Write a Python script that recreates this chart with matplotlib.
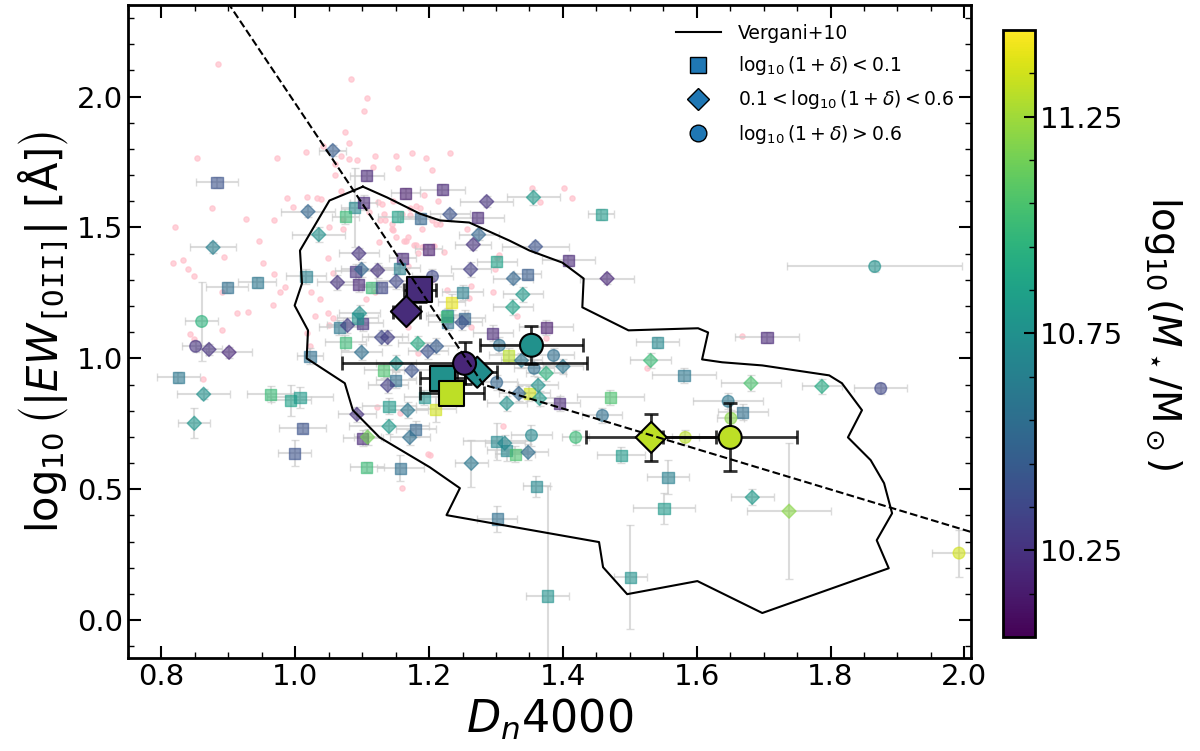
import matplotlib
matplotlib.use('Agg')
import matplotlib.pyplot as plt
import numpy as np
from matplotlib.colors import Normalize
from matplotlib.lines import Line2D
from matplotlib.ticker import FixedLocator, MultipleLocator

# full parent sample (pink dots)
bg_x = [0.884, 1.083, 1.107, 1.102, 1.074, 1.080, 0.853, 0.972, 1.016, 1.041, 1.068, 1.080,
        1.092, 1.119, 1.150, 1.175, 1.195, 1.231, 1.060, 1.116, 1.154, 1.205, 1.354, 1.401,
        1.414, 1.192, 0.987, 1.017, 1.032, 1.038, 1.069, 1.213, 1.366, 1.123, 1.146, 1.180,
        1.110, 1.051, 1.126, 1.144, 1.210, 1.217, 1.160, 1.171, 1.132, 1.144, 1.150, 1.168,
        1.162, 1.177, 1.189, 1.125, 1.257, 1.184, 1.222, 1.208, 1.302, 1.059, 1.129, 0.996,
        0.875, 0.926, 0.968, 0.820, 1.134, 1.146, 1.165, 1.181, 1.189, 0.946, 0.893, 0.832,
        0.817, 0.840, 0.849, 0.951, 1.049, 0.968, 0.984, 0.977, 0.890, 1.023, 1.037, 0.966,
        0.929, 0.913, 1.029, 1.049, 1.105, 1.119, 0.890, 1.051, 1.056, 0.843, 0.849, 1.017,
        1.022, 0.862, 1.071, 1.071, 1.168, 1.056, 1.204, 1.205, 1.171, 1.186, 1.305, 1.295,
        1.263, 1.226, 1.168, 1.263, 1.183, 1.157, 1.122, 1.311, 1.199, 1.159, 1.375, 1.298,
        1.260, 1.331, 1.668, 1.525, 1.201]
bg_y = [2.126, 2.069, 1.996, 1.947, 1.866, 1.821, 1.767, 1.767, 1.790, 1.813, 1.775, 1.763,
        1.756, 1.775, 1.775, 1.786, 1.767, 1.786, 1.702, 1.733, 1.729, 1.718, 1.649, 1.649,
        1.611, 1.626, 1.611, 1.618, 1.611, 1.607, 1.641, 1.603, 1.599, 1.599, 1.603, 1.584,
        1.561, 1.500, 1.527, 1.515, 1.515, 1.515, 1.550, 1.546, 1.553, 1.496, 1.462, 1.462,
        1.447, 1.435, 1.496, 1.443, 1.496, 1.401, 1.405, 1.431, 1.382, 1.744, 1.588, 1.580,
        1.573, 1.534, 1.527, 1.500, 1.527, 1.492, 1.447, 1.435, 1.424, 1.447, 1.389, 1.374,
        1.363, 1.343, 1.313, 1.363, 1.382, 1.324, 1.271, 1.252, 1.252, 1.252, 1.225, 1.202,
        1.176, 1.172, 1.160, 1.172, 1.225, 1.252, 1.107, 1.126, 1.156, 1.092, 1.073, 1.095,
        1.046, 0.920, 1.534, 1.496, 1.351, 1.328, 1.301, 1.527, 1.576, 1.573, 1.393, 1.252,
        1.275, 1.260, 1.118, 1.118, 1.019, 0.790, 0.813, 0.740, 0.634, 0.504, 1.076, 1.340,
        1.229, 1.160, 1.084, 0.962, 0.630]

# log10(1+delta) < 0.1  (squares)
sq_x = [0.883, 0.898, 0.943, 0.825, 0.963, 0.993, 1.007, 1.011, 0.999, 1.101, 1.107, 1.157,
        1.140, 1.180, 1.302, 1.301, 1.316, 1.210, 1.193, 1.089, 1.075, 1.107, 1.102, 1.165,
        1.220, 1.153, 1.187, 1.160, 1.199, 1.016, 1.095, 1.090, 1.114, 1.129, 1.156, 1.101,
        1.066, 1.093, 1.075, 1.132, 1.150, 1.228, 1.228, 1.022, 1.234, 1.301, 1.408, 1.347,
        1.250, 1.226, 1.253, 1.375, 1.295, 1.319, 1.350, 1.395, 1.329, 1.360, 1.377, 1.551,
        1.557, 1.487, 1.501, 1.669, 1.705, 1.541, 1.581, 1.471, 1.457, 1.272]
sq_y = [1.672, 1.271, 1.290, 0.927, 0.863, 0.840, 0.851, 0.733, 0.637, 0.695, 0.584, 0.580,
        0.817, 0.729, 0.386, 0.683, 0.649, 0.805, 0.851, 1.576, 1.542, 1.698, 1.595, 1.630,
        1.645, 1.542, 1.534, 1.382, 1.416, 1.313, 1.282, 1.332, 1.271, 1.271, 1.344, 1.134,
        1.118, 1.153, 1.061, 0.954, 0.916, 1.164, 1.137, 1.008, 1.214, 1.370, 1.374, 1.321,
        1.252, 1.160, 1.153, 1.118, 1.096, 1.011, 0.866, 0.828, 0.634, 0.511, 0.092, 0.427,
        0.546, 0.630, 0.164, 0.794, 1.080, 1.061, 0.935, 0.851, 1.550, 1.538]
sq_xerr = [0.032, 0.031, 0.028, 0.032, 0.035, 0.030, 0.050, 0.035, 0.025, 0.030, 0.025, 0.035,
           0.040, 0.030, 0.030, 0.050, 0.030, 0.030, 0.030, 0.020, 0.020, 0.025, 0.020, 0.022,
           0.034, 0.030, 0.030, 0.020, 0.020, 0.030, 0.030, 0.030, 0.020, 0.030, 0.030, 0.030,
           0.030, 0.030, 0.030, 0.030, 0.030, 0.030, 0.030, 0.020, 0.020, 0.030, 0.040, 0.020,
           0.030, 0.030, 0.030, 0.040, 0.030, 0.030, 0.030, 0.030, 0.030, 0.020, 0.032, 0.047,
           0.032, 0.036, 0.024, 0.037, 0.048, 0.032, 0.048, 0.050, 0.020, 0.040]
sq_yerr = [0.020, 0.020, 0.020, 0.020, 0.030, 0.060, 0.040, 0.020, 0.050, 0.030, 0.020, 0.050,
           0.030, 0.030, 0.050, 0.070, 0.040, 0.050, 0.030, 0.150, 0.030, 0.020, 0.030, 0.020,
           0.020, 0.020, 0.020, 0.020, 0.020, 0.030, 0.030, 0.030, 0.020, 0.020, 0.020, 0.030,
           0.030, 0.030, 0.030, 0.030, 0.030, 0.030, 0.030, 0.030, 0.030, 0.020, 0.020, 0.020,
           0.030, 0.030, 0.030, 0.030, 0.030, 0.030, 0.030, 0.030, 0.030, 0.040, 0.420, 0.060,
           0.065, 0.030, 0.200, 0.030, 0.020, 0.020, 0.030, 0.030, 0.020, 0.020]
sq_mass = [10.40, 10.55, 10.60, 10.60, 11.00, 10.85, 10.80, 10.40, 10.40, 10.20, 11.00, 10.55,
           10.80, 10.50, 10.55, 10.70, 10.70, 11.35, 10.75, 10.70, 11.00, 10.20, 10.20, 10.15,
           10.20, 10.85, 10.50, 10.20, 10.15, 10.65, 10.20, 10.25, 11.00, 10.35, 10.65, 10.25,
           10.60, 10.75, 11.00, 11.05, 10.55, 10.70, 10.55, 10.55, 11.40, 10.85, 10.20, 10.45,
           10.65, 11.00, 10.50, 10.15, 10.20, 11.30, 11.35, 10.20, 11.05, 10.70, 10.75, 10.80,
           10.65, 10.80, 10.75, 10.55, 10.20, 10.70, 10.60, 11.05, 10.80, 10.20]

# 0.1 < log10(1+delta) < 0.6  (diamonds)
dm_x = [0.877, 0.871, 0.901, 0.863, 0.849, 1.092, 1.108, 1.168, 1.140, 1.171, 1.263, 1.313,
        1.316, 1.019, 1.231, 1.035, 1.095, 1.063, 1.099, 1.123, 1.151, 1.096, 1.078, 1.129,
        1.138, 1.099, 1.183, 1.211, 1.198, 1.151, 1.174, 1.138, 1.262, 1.466, 1.326, 1.340,
        1.325, 1.249, 1.338, 1.400, 1.375, 1.363, 1.334, 1.365, 1.348, 1.683, 1.738, 1.681,
        1.787, 1.531, 1.056, 1.286, 1.356, 1.274, 1.266, 1.359]
dm_y = [1.424, 1.034, 1.023, 0.863, 0.752, 0.786, 0.699, 0.802, 0.740, 0.698, 0.599, 0.676,
        0.828, 1.561, 1.550, 1.473, 1.401, 1.290, 1.340, 1.336, 1.294, 1.172, 1.126, 1.080,
        1.080, 1.023, 1.057, 1.046, 1.027, 0.981, 0.954, 0.897, 1.340, 1.305, 1.305, 1.244,
        1.195, 1.137, 0.992, 0.969, 0.943, 0.897, 0.866, 0.847, 0.641, 0.469, 0.416, 0.905,
        0.893, 0.992, 1.794, 1.599, 1.615, 1.473, 1.435, 1.427]
dm_xerr = [0.034, 0.020, 0.034, 0.040, 0.024, 0.028, 0.020, 0.030, 0.060, 0.030, 0.025, 0.030,
           0.030, 0.040, 0.030, 0.040, 0.030, 0.030, 0.030, 0.030, 0.030, 0.030, 0.030, 0.030,
           0.030, 0.030, 0.030, 0.030, 0.030, 0.030, 0.030, 0.030, 0.030, 0.040, 0.030, 0.030,
           0.030, 0.030, 0.030, 0.030, 0.030, 0.030, 0.030, 0.030, 0.030, 0.032, 0.063, 0.045,
           0.030, 0.030, 0.020, 0.040, 0.040, 0.030, 0.027, 0.050]
dm_yerr = [0.020, 0.020, 0.020, 0.020, 0.057, 0.030, 0.030, 0.030, 0.030, 0.030, 0.090, 0.030,
           0.030, 0.020, 0.020, 0.030, 0.020, 0.030, 0.030, 0.030, 0.030, 0.030, 0.030, 0.030,
           0.030, 0.030, 0.030, 0.030, 0.030, 0.030, 0.030, 0.030, 0.030, 0.020, 0.020, 0.030,
           0.030, 0.030, 0.030, 0.030, 0.030, 0.030, 0.030, 0.030, 0.030, 0.030, 0.260, 0.030,
           0.030, 0.030, 0.020, 0.020, 0.030, 0.020, 0.020, 0.020]
dm_mass = [10.65, 10.25, 10.20, 10.75, 10.78, 10.25, 11.15, 10.60, 10.80, 10.55, 10.60, 10.70,
           10.75, 10.50, 10.40, 10.75, 10.25, 10.25, 10.50, 10.25, 10.35, 10.75, 10.30, 10.35,
           10.30, 10.55, 10.90, 10.45, 10.40, 10.75, 10.40, 10.30, 10.30, 10.20, 10.50, 10.80,
           10.85, 10.40, 10.60, 10.60, 10.95, 10.75, 10.50, 10.80, 10.55, 10.80, 11.20, 11.05,
           10.90, 11.00, 10.45, 10.25, 10.80, 10.50, 10.25, 10.40]

# log10(1+delta) > 0.6  (circles)
ci_x = [0.860, 0.851, 1.205, 1.305, 1.386, 1.357, 1.301, 1.459, 1.353, 1.419, 1.583, 1.651,
        1.647, 1.875, 1.866, 1.992]
ci_y = [1.141, 1.046, 1.313, 1.050, 1.011, 0.962, 0.908, 0.782, 0.706, 0.698, 0.698, 0.771,
        0.836, 0.885, 1.351, 0.256]
ci_xerr = [0.025, 0.020, 0.030, 0.030, 0.030, 0.030, 0.030, 0.030, 0.030, 0.020, 0.020, 0.020,
           0.052, 0.040, 0.131, 0.040]
ci_yerr = [0.150, 0.020, 0.030, 0.030, 0.030, 0.030, 0.030, 0.030, 0.040, 0.030, 0.030, 0.030,
           0.030, 0.020, 0.020, 0.090]
ci_mass = [10.95, 10.25, 10.35, 10.55, 10.55, 10.55, 10.50, 10.55, 10.70, 11.00, 11.30, 11.20,
           10.60, 10.35, 10.75, 11.35]

# stacked / median points per environment bin
msq_x = [1.186, 1.220, 1.234]
msq_y = [1.263, 0.924, 0.866]
msq_xerr = [0.024, 0.034, 0.048]
msq_yerr = [0.046, 0.030, 0.020]
msq_mass = [10.22, 10.75, 11.31]

mdm_x = [1.166, 1.272, 1.532]
mdm_y = [1.179, 0.947, 0.698]
mdm_xerr = [0.020, 0.030, 0.097]
mdm_yerr = [0.030, 0.030, 0.090]
mdm_mass = [10.22, 10.73, 11.31]

mci_x = [1.253, 1.353, 1.650]
mci_y = [0.981, 1.050, 0.698]
mci_xerr = [0.183, 0.077, 0.100]
mci_yerr = [0.080, 0.073, 0.130]
mci_mass = [10.20, 10.75, 11.31]

# Vergani+10 contour
verg_x = [1.101, 1.137, 1.186, 1.216, 1.260, 1.320, 1.350, 1.399, 1.431, 1.429, 1.498, 1.602,
          1.617, 1.608, 1.638, 1.698, 1.798, 1.817, 1.847, 1.826, 1.860, 1.880, 1.892, 1.869,
          1.887, 1.698, 1.601, 1.496, 1.460, 1.454, 1.226, 1.246, 1.201, 1.126, 1.086, 1.074,
          1.017, 1.019, 0.999, 1.010, 1.007, 1.051, 1.101]
verg_y = [1.656, 1.615, 1.553, 1.527, 1.519, 1.450, 1.412, 1.366, 1.305, 1.195, 1.107, 1.115,
          1.099, 0.996, 0.985, 0.973, 0.935, 0.905, 0.802, 0.698, 0.611, 0.523, 0.408, 0.305,
          0.198, 0.027, 0.149, 0.099, 0.202, 0.298, 0.401, 0.504, 0.584, 0.698, 0.802, 0.905,
          1.000, 1.107, 1.202, 1.286, 1.412, 1.603, 1.656]

# dividing line
div_x = [0.899, 1.281, 2.02]
div_y = [2.36, 0.90, 0.329]

norm = Normalize(vmin=10.05, vmax=11.45)
cmap = plt.get_cmap('viridis')

fig = plt.figure(figsize=(12, 7.51), dpi=100)
ax = fig.add_axes([0.1067, 0.1238, 0.7025, 0.8695])

ax.scatter(bg_x, bg_y, s=14, color='pink', alpha=0.7, zorder=0)


def plot_sample(x, y, xerr, yerr, mass, marker, size):
    ax.errorbar(x, y, xerr=xerr, yerr=yerr, fmt='none', ecolor='0.8', elinewidth=1.5,
                capsize=3, alpha=0.7, zorder=1)
    ax.scatter(x, y, c=mass, cmap=cmap, norm=norm, marker=marker, s=size, alpha=0.6, zorder=2)


def plot_mean(x, y, xerr, yerr, mass, marker, size):
    ax.errorbar(x, y, xerr=xerr, yerr=yerr, fmt='none', ecolor='k', elinewidth=2,
                capsize=5, capthick=2, alpha=0.8, zorder=4)
    ax.scatter(x, y, c=mass, cmap=cmap, norm=norm, marker=marker, s=size,
               edgecolors='k', linewidths=1.5, zorder=5)


plot_sample(sq_x, sq_y, sq_xerr, sq_yerr, sq_mass, 's', 64)
plot_sample(dm_x, dm_y, dm_xerr, dm_yerr, dm_mass, 'D', 51)
plot_sample(ci_x, ci_y, ci_xerr, ci_yerr, ci_mass, 'o', 71)

ax.plot(verg_x, verg_y, color='k', lw=1.5, zorder=3)

plot_mean(msq_x, msq_y, msq_xerr, msq_yerr, msq_mass, 's', 18 ** 2)
plot_mean(mdm_x, mdm_y, mdm_xerr, mdm_yerr, mdm_mass, 'D', 15.8 ** 2)
plot_mean(mci_x, mci_y, mci_xerr, mci_yerr, mci_mass, 'o', 16.5 ** 2)

ax.plot(div_x, div_y, 'k--', lw=1.5, zorder=6)

ax.set_xlim(0.75, 2.01)
ax.set_ylim(-0.145, 2.35)
ax.xaxis.set_major_locator(MultipleLocator(0.2))
ax.xaxis.set_minor_locator(MultipleLocator(0.05))
ax.yaxis.set_major_locator(MultipleLocator(0.5))
ax.yaxis.set_minor_locator(MultipleLocator(0.1))
ax.tick_params(which='both', direction='in', top=True, right=True)
ax.tick_params(which='major', length=9, width=1.5, labelsize=21)
ax.tick_params(which='minor', length=4.5, width=1)
for sp in ax.spines.values():
    sp.set_linewidth(2)

ax.set_xlabel(r'$D_n4000$', fontsize=32)
ax.set_ylabel(r'$\log_{10}\left(|EW_{\mathtt{[OII]}}|\ [\mathrm{Å}]\right)$', fontsize=30)

handles = [
    Line2D([], [], color='k', lw=1.5, label='Vergani+10'),
    Line2D([], [], marker='s', ls='', color='tab:blue', mec='k', ms=12,
           label=r'$\log_{10}(1+\delta) < 0.1$'),
    Line2D([], [], marker='D', ls='', color='tab:blue', mec='k', ms=11,
           label=r'$0.1 < \log_{10}(1+\delta) < 0.6$'),
    Line2D([], [], marker='o', ls='', color='tab:blue', mec='k', ms=12,
           label=r'$\log_{10}(1+\delta) > 0.6$'),
]
ax.legend(handles=handles, loc='upper right', frameon=False, fontsize=13.5,
          labelspacing=0.6, handlelength=2.4, handletextpad=0.9,
          bbox_to_anchor=(1.0, 0.997))

cax = fig.add_axes([0.8358, 0.1518, 0.0267, 0.8083])
sm = plt.cm.ScalarMappable(norm=norm, cmap=cmap)
cb = fig.colorbar(sm, cax=cax)
cb.set_ticks([10.25, 10.75, 11.25])
cb.ax.yaxis.set_minor_locator(FixedLocator([10.15, 10.35, 10.45, 10.55, 10.65, 10.85, 10.95,
                                            11.05, 11.15, 11.35]))
cb.ax.tick_params(which='major', direction='in', length=8, width=1.5, labelsize=21)
cb.ax.tick_params(which='minor', direction='in', length=4, width=1)
cb.outline.set_linewidth(2)
cb.set_label(r'$\log_{10}(M_\star/\mathrm{M}_\odot)$', fontsize=28, rotation=270, labelpad=44)

fig.savefig('out.png', dpi=100)
